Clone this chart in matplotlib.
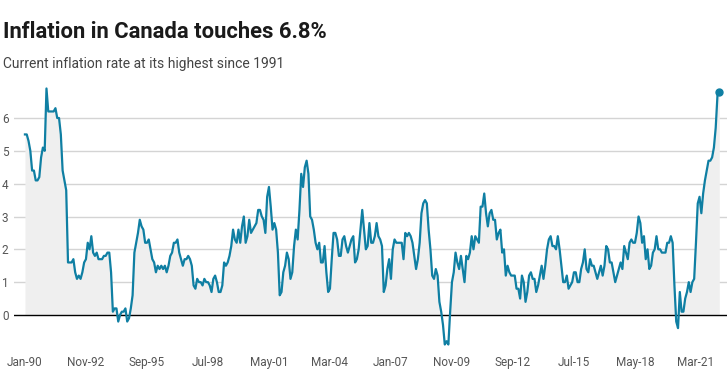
import numpy as np
import pandas as pd
import matplotlib
matplotlib.use("Agg")
import matplotlib.pyplot as plt

plt.rcParams['font.family'] = ['Roboto', 'DejaVu Sans']

# Canada CPI, year-over-year % change, monthly Jan 1990 - Apr 2022
cpi = {
    1990: [5.5, 5.5, 5.3, 5.0, 4.4, 4.4, 4.1, 4.1, 4.2, 4.8, 5.1, 5.0],
    1991: [6.9, 6.2, 6.2, 6.2, 6.2, 6.3, 6.0, 6.0, 5.5, 4.4, 4.1, 3.8],
    1992: [1.6, 1.6, 1.6, 1.7, 1.3, 1.1, 1.2, 1.1, 1.3, 1.6, 1.7, 2.2],
    1993: [2.0, 2.4, 1.9, 1.8, 1.9, 1.7, 1.7, 1.7, 1.8, 1.8, 1.9, 1.9],
    1994: [1.3, 0.1, 0.2, 0.2, -0.2, 0.0, 0.1, 0.1, 0.2, -0.2, -0.1, 0.2],
    1995: [0.6, 1.9, 2.2, 2.5, 2.9, 2.7, 2.6, 2.2, 2.2, 2.3, 2.0, 1.7],
    1996: [1.6, 1.3, 1.5, 1.4, 1.5, 1.4, 1.5, 1.3, 1.5, 1.8, 1.9, 2.2],
    1997: [2.2, 2.3, 1.9, 1.7, 1.5, 1.7, 1.7, 1.8, 1.7, 1.5, 0.9, 0.8],
    1998: [1.1, 1.0, 1.0, 0.9, 1.1, 1.0, 1.0, 0.9, 0.7, 1.1, 1.2, 1.0],
    1999: [0.7, 0.7, 0.9, 1.6, 1.5, 1.6, 1.8, 2.1, 2.6, 2.3, 2.2, 2.6],
    2000: [2.2, 2.7, 3.0, 2.2, 2.4, 2.9, 2.5, 2.6, 2.7, 2.8, 3.2, 3.2],
    2001: [3.0, 2.9, 2.5, 3.6, 3.9, 3.3, 2.6, 2.8, 2.6, 1.9, 0.6, 0.7],
    2002: [1.3, 1.5, 1.9, 1.7, 1.1, 1.3, 2.1, 2.6, 2.3, 3.2, 4.3, 3.9],
    2003: [4.5, 4.7, 4.3, 3.0, 2.9, 2.6, 2.2, 2.0, 2.2, 1.6, 1.6, 2.1],
    2004: [1.3, 0.7, 0.8, 1.7, 2.5, 2.5, 2.3, 1.8, 1.8, 2.3, 2.4, 2.1],
    2005: [1.9, 2.1, 2.3, 2.4, 1.6, 1.7, 2.0, 2.6, 3.2, 2.6, 2.0, 2.1],
    2006: [2.8, 2.2, 2.2, 2.4, 2.8, 2.4, 2.3, 2.1, 0.7, 0.9, 1.4, 1.7],
    2007: [1.1, 2.0, 2.3, 2.2, 2.2, 2.2, 2.2, 1.7, 2.5, 2.4, 2.5, 2.4],
    2008: [2.2, 1.8, 1.4, 1.7, 2.2, 3.1, 3.4, 3.5, 3.4, 2.6, 2.0, 1.2],
    2009: [1.1, 1.4, 1.2, 0.4, 0.1, -0.3, -0.9, -0.8, -0.9, 0.1, 1.0, 1.3],
    2010: [1.9, 1.6, 1.4, 1.8, 1.4, 1.0, 1.8, 1.7, 1.9, 2.4, 2.0, 2.4],
    2011: [2.3, 2.2, 3.3, 3.3, 3.7, 3.1, 2.7, 3.1, 3.2, 2.9, 2.9, 2.3],
    2012: [2.5, 2.6, 1.9, 2.0, 1.2, 1.5, 1.3, 1.2, 1.2, 1.2, 0.8, 0.8],
    2013: [0.5, 1.2, 1.0, 0.4, 0.7, 1.2, 1.3, 1.1, 1.1, 0.7, 0.9, 1.2],
    2014: [1.5, 1.1, 1.5, 2.0, 2.3, 2.4, 2.1, 2.1, 2.0, 2.4, 2.0, 1.5],
    2015: [1.0, 1.0, 1.2, 0.8, 0.9, 1.0, 1.3, 1.3, 1.0, 1.0, 1.4, 1.6],
    2016: [2.0, 1.4, 1.3, 1.7, 1.5, 1.5, 1.3, 1.1, 1.3, 1.5, 1.2, 1.5],
    2017: [2.1, 2.0, 1.6, 1.6, 1.3, 1.0, 1.2, 1.4, 1.6, 1.4, 2.1, 1.9],
    2018: [1.7, 2.2, 2.3, 2.2, 2.2, 2.5, 3.0, 2.8, 2.2, 2.4, 1.7, 2.0],
    2019: [1.4, 1.5, 1.9, 2.0, 2.4, 2.0, 2.0, 1.9, 1.9, 1.9, 2.2, 2.2],
    2020: [2.4, 2.2, 0.9, -0.2, -0.4, 0.7, 0.1, 0.1, 0.5, 0.7, 1.0, 0.7],
    2021: [1.0, 1.1, 2.2, 3.4, 3.6, 3.1, 3.7, 4.1, 4.4, 4.7, 4.7, 4.8],
    2022: [5.1, 5.7, 6.7, 6.8],
}
values = np.array([v for yr in sorted(cpi) for v in cpi[yr]])
dates = pd.date_range("1990-01-01", periods=len(values), freq="MS")
tick_labels = [d.strftime("%b-%y") for d in dates[::34]]
yticks = [0, 1, 2, 3, 4, 5, 6]

line_color = "#0f7fa3"

fig = plt.figure(figsize=(7.27, 3.81), dpi=100)
ax = fig.add_axes([14 / 727, (381 - 347.8) / 381, 713 / 727, (347.8 - 85.2) / 381])

x = np.arange(len(values))
ax.fill_between(x, np.maximum(values, 0), 0, color="#efefef", lw=0, zorder=1)
for t in yticks[1:]:
    ax.axhline(t, color="#d4d4d4", lw=1, zorder=0)
ax.axhline(0, color="black", lw=1, zorder=2)
ax.plot(x, values, color=line_color, lw=1.6, zorder=3, solid_joinstyle="round")
ax.plot(x[-1], values[-1], "o", color=line_color, ms=5, zorder=4)

ax.set_xlim(-6.1, 391.3)
ax.set_ylim(-1.0, 7.0)
ax.set_xticks(x[::34])
ax.set_xticklabels(tick_labels)
ax.set_yticks(yticks)
ax.tick_params(axis="both", length=0, labelsize=8.5, labelcolor="#555555")
ax.tick_params(axis="x", pad=6)
ax.tick_params(axis="y", pad=4)
for s in ax.spines.values():
    s.set_visible(False)
ax.patch.set_alpha(0)

fig.text(3 / 727, 1 - 38 / 381, "Inflation in Canada touches 6.8%", fontsize=15.8,
         fontweight="bold", color="#1a1a1a", va="baseline")
fig.text(3 / 727, 1 - 68 / 381, "Current inflation rate at its highest since 1991",
         fontsize=10, color="#444444", va="baseline")

fig.savefig("out.png", dpi=100)
